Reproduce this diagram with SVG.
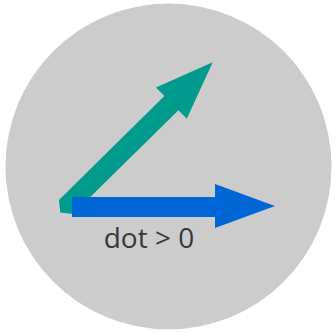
<svg xmlns="http://www.w3.org/2000/svg" width="335" height="333" viewBox="0 0 335 333">
<style>
.bg{fill:#cccccc}
.lbl{font-family:"Open Sans","Noto Sans","Liberation Sans",sans-serif;font-size:28px;fill:#383838}
</style>
<rect width="335" height="333" fill="#ffffff"/>
<circle class="bg" cx="168.5" cy="166.5" r="163"/>
<g id="connectors">
<g id="vecA">
<polygon fill="#009b8d" transform="rotate(-44.6 66 207)" points="66,197 214,197 214,185 272,207 214,229 214,217 66,217 58,207"/>
</g>
<g id="vecB">
<polygon fill="#0066d6" points="72,197 215,197 215,184 275,206 215,228 215,217 72,217"/>
</g>
</g>
<g id="label">
<text class="lbl" x="149" y="248" text-anchor="middle">dot &gt; 0</text>
</g>
</svg>
